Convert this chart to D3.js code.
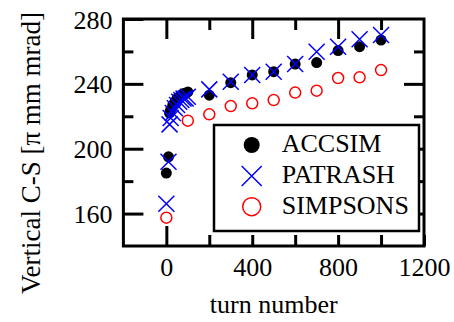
<!DOCTYPE html>
<html>
<head>
<meta charset="utf-8">
<script src="https://cdn.jsdelivr.net/npm/d3@7"></script>
<style>
html,body{margin:0;padding:0;background:#fff;}
</style>
</head>
<body>
<svg id="chart" width="454" height="322"></svg>
<script>
// ---- data ----
const accsimTurns = [0, 10, 15, 20, 30, 40, 50, 60, 70, 80, 90, 100, 200, 300, 400, 500, 600, 700, 800, 900, 1000];
const accsimValues = [185, 195, 222, 224, 227, 229, 231, 232, 233, 234, 234, 235, 233, 240.7, 245.5, 247.5, 252.2, 253.1, 260.5, 262.9, 267];
const patrashTurns = [0, 10, 15, 20, 30, 40, 50, 60, 70, 80, 90, 100, 200, 300, 400, 500, 600, 700, 800, 900, 1000];
const patrashValues = [166, 192, 215, 219, 222, 225, 227, 229, 230, 231, 231, 232, 236.6, 241.3, 245.5, 247.5, 252.2, 259.8, 262.9, 267.5, 270.1];
const simpsonsTurns = [0, 100, 200, 300, 400, 500, 600, 700, 800, 900, 1000];
const simpsonsValues = [157.5, 217.3, 221.2, 226.3, 228, 230, 234.6, 235.8, 243.6, 244, 248.5];
const seriesNames = ["ACCSIM", "PATRASH", "SIMPSONS"];
const xMajorTicks = [0, 400, 800, 1200];
const xMinorTicks = [-200, 200, 600, 1000];
const yMajorTicks = [160, 200, 240, 280];
const yMinorTicks = [140, 180, 220, 260];
const xTitle = "turn number";
const yTitle = "Vertical C-S [\u03c0 mm mrad]";

const FONT = "'Liberation Serif', Tinos, 'Times New Roman', 'Nimbus Roman', 'DejaVu Serif', serif";

// ---- layout ----
const L = 123.4, R = 424, T = 19, B = 246;
const svg = d3.select("#chart").style("font-family", FONT);
const x = d3.scaleLinear().domain([-200, 1200]).range([L, R]);
const y = d3.scaleLinear().domain([140, 280]).range([B, T]);

const tickStyle = g => {
  g.attr("font-family", null).style("font-family", FONT);
  g.select(".domain").remove();
  g.selectAll(".tick line").attr("stroke", "#000").attr("stroke-width", 3);
  g.selectAll(".tick text").attr("font-size", 26).style("font-family", FONT).attr("fill", "#000");
};

// bottom: long tick at 0 with labels, short ticks elsewhere
svg.append("g").attr("transform", `translate(0,${B})`)
  .call(d3.axisBottom(x).tickValues(xMajorTicks).tickSizeInner(-20).tickSizeOuter(0).tickPadding(12).tickFormat(d3.format("d")))
  .call(tickStyle)
  .call(g => g.selectAll(".tick").filter(d => d !== 0).select("line").attr("y2", -11));
svg.append("g").attr("transform", `translate(0,${B})`)
  .call(d3.axisBottom(x).tickValues(xMinorTicks.filter(v => v > -200)).tickSizeInner(-11).tickSizeOuter(0).tickFormat(""))
  .call(tickStyle);
// top
svg.append("g").attr("transform", `translate(0,${T})`)
  .call(d3.axisTop(x).tickValues(xMajorTicks.filter(v => v < 1200)).tickSizeInner(-20).tickSizeOuter(0).tickFormat(""))
  .call(tickStyle);
svg.append("g").attr("transform", `translate(0,${T})`)
  .call(d3.axisTop(x).tickValues(xMinorTicks.filter(v => v > -200)).tickSizeInner(-11).tickSizeOuter(0).tickFormat(""))
  .call(tickStyle);
// left
svg.append("g").attr("transform", `translate(${L},0)`)
  .call(d3.axisLeft(y).tickValues(yMajorTicks).tickSizeInner(-20).tickSizeOuter(0).tickPadding(11).tickFormat(d3.format("d")))
  .call(tickStyle)
  .call(g => g.selectAll(".tick text").attr("dy", "0.35em"));
svg.append("g").attr("transform", `translate(${L},0)`)
  .call(d3.axisLeft(y).tickValues(yMinorTicks.filter(v => v > 140)).tickSizeInner(-10).tickSizeOuter(0).tickFormat(""))
  .call(tickStyle);
// right
svg.append("g").attr("transform", `translate(${R},0)`)
  .call(d3.axisRight(y).tickValues(yMajorTicks.filter(v => v < 280)).tickSizeInner(-20).tickSizeOuter(0).tickFormat(""))
  .call(tickStyle);
svg.append("g").attr("transform", `translate(${R},0)`)
  .call(d3.axisRight(y).tickValues(yMinorTicks.filter(v => v > 140)).tickSizeInner(-10).tickSizeOuter(0).tickFormat(""))
  .call(tickStyle);

// frame
svg.append("rect").attr("x", L).attr("y", T).attr("width", R - L).attr("height", B - T)
  .attr("fill", "none").attr("stroke", "#000").attr("stroke-width", 3);

// axis titles
svg.append("text").attr("x", (L + R) / 2).attr("y", 313).attr("text-anchor", "middle")
  .attr("font-size", 26).style("font-family", FONT).text(xTitle);
svg.append("text").attr("transform", "translate(40,153) rotate(-90)").attr("text-anchor", "middle")
  .attr("font-size", 27).style("font-family", FONT).text(yTitle);

// ---- marks ----
const crossPath = h => `M${-h},${-h}L${h},${h}M${-h},${h}L${h},${-h}`;
const plot = svg.append("g");
plot.selectAll("circle.sim").data(simpsonsTurns.map((t, i) => [t, simpsonsValues[i]])).join("circle")
  .attr("class", "sim").attr("cx", d => x(d[0])).attr("cy", d => y(d[1])).attr("r", 5.5)
  .attr("fill", "none").attr("stroke", "#ff0000").attr("stroke-width", 1.5);
plot.selectAll("circle.acc").data(accsimTurns.map((t, i) => [t, accsimValues[i]])).join("circle")
  .attr("class", "acc").attr("cx", d => x(d[0])).attr("cy", d => y(d[1])).attr("r", 5.5)
  .attr("fill", "#000");
plot.selectAll("path.pat").data(patrashTurns.map((t, i) => [t, patrashValues[i]])).join("path")
  .attr("class", "pat").attr("transform", d => `translate(${x(d[0])},${y(d[1])})`)
  .attr("d", crossPath(8)).attr("fill", "none").attr("stroke", "#0000ff").attr("stroke-width", 1.5);

// ---- legend ----
const lg = svg.append("g");
lg.append("rect").attr("x", 214).attr("y", 125).attr("width", 205).attr("height", 106)
  .attr("fill", "#fff").attr("stroke", "#000").attr("stroke-width", 2.5);
const rows = [145, 176, 206.7];
lg.append("circle").attr("cx", 251.7).attr("cy", rows[0]).attr("r", 8).attr("fill", "#000");
lg.append("path").attr("transform", `translate(251.7,${rows[1]})`).attr("d", crossPath(10))
  .attr("fill", "none").attr("stroke", "#0000ff").attr("stroke-width", 1.5);
lg.append("circle").attr("cx", 251.7).attr("cy", rows[2]).attr("r", 9).attr("fill", "none")
  .attr("stroke", "#ff0000").attr("stroke-width", 1.5);
lg.selectAll("text").data(seriesNames).join("text")
  .attr("x", 281.7).attr("y", (d, i) => rows[i] + 7).attr("font-size", 26).style("font-family", FONT).text(d => d);
</script>
</body>
</html>
